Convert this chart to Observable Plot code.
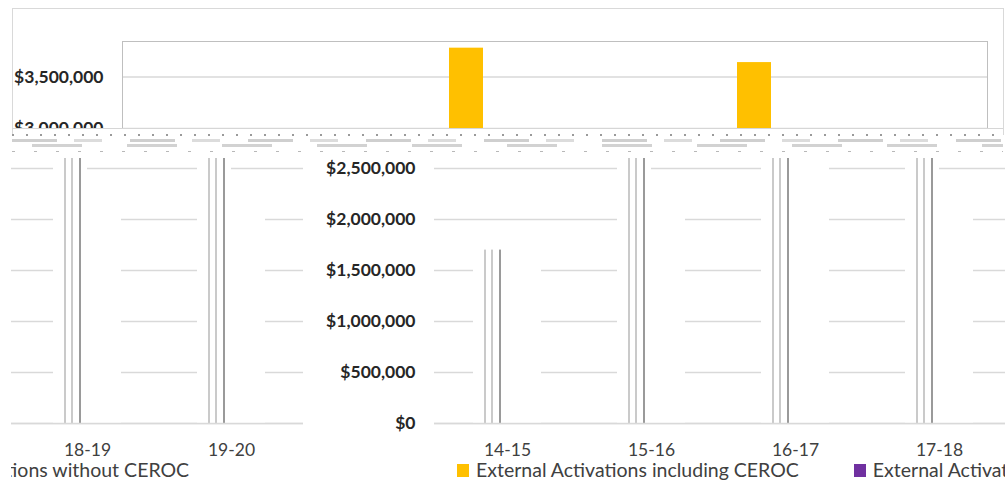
<!DOCTYPE html>
<html><head><meta charset="utf-8">
<script src="https://cdn.jsdelivr.net/npm/d3@7"></script>
<script src="https://cdn.jsdelivr.net/npm/@observablehq/plot@0.6"></script>
<style>
html,body{margin:0;padding:0;background:#fff;width:1005px;height:499px;overflow:hidden;font-family:Lato,"Open Sans",sans-serif;}
#stage{position:relative;width:1005px;height:499px;overflow:hidden;background:#fff;}
.abs{position:absolute;}
#outer{left:12px;top:8px;width:990px;height:126px;border:1px solid #d9d9d9;border-bottom:none;}
#topClip{left:0;top:0;width:1005px;height:129px;overflow:hidden;}
#n1{left:12px;top:128px;width:991px;height:1px;background:#d6d6d6;}
#n2{left:12px;top:134px;width:991px;height:2px;background:repeating-linear-gradient(90deg,#9a9a9a 0 2px,transparent 2px 14px);}
#n3{left:12px;top:139px;width:991px;height:3px;background:repeating-linear-gradient(90deg,#cfcfcf 0 45px,transparent 45px 62px,#dcdcdc 62px 90px,transparent 90px 118px);}
#n4{left:12px;top:144px;width:991px;height:3px;background:repeating-linear-gradient(90deg,transparent 0 20px,#d2d2d2 20px 70px,transparent 70px 95px);}
#n5{left:12px;top:151px;width:991px;height:1px;background:repeating-linear-gradient(90deg,#b8b8b8 0 3px,transparent 3px 22px);}
#bottomA{left:0;top:0;width:1005px;height:499px;overflow:hidden;}
#bottomB{left:11px;top:0;width:994px;height:499px;overflow:hidden;}
.wrap{position:absolute;top:0;width:1300px;height:499px;}
.legend{position:absolute;top:460px;left:457px;white-space:nowrap;font-size:19.5px;line-height:20px;color:#404040;display:flex;align-items:center;}
.legend .item{display:flex;align-items:center;margin-right:55px;}
.sw{display:inline-block;width:12px;height:13px;margin-right:7px;}
svg text{font-family:Lato,"Open Sans",sans-serif;}
g[aria-label^="y-axis"] text{font-size:17.5px;font-weight:700;fill:#262626;}
g[aria-label^="x-axis"] text{font-size:17.5px;fill:#404040;}
</style>
</head><body>
<div id="stage">
  <div id="outer" class="abs"></div>
  <div id="topClip" class="abs"></div>
  <div id="n1" class="abs"></div><div id="n2" class="abs"></div><div id="n3" class="abs"></div><div id="n4" class="abs"></div><div id="n5" class="abs"></div>
  <div id="bottomA" class="abs"></div>
  <div id="bottomB" class="abs"></div>
</div>
<script>
const categories = ["14-15","15-16","16-17","17-18","18-19","19-20"];
const includingCeroc = [1700000, 2750000, 3780000, 2800000, 3640000, 2700000];
const withoutCeroc = [1600000, 2300000, 2700000, 2300000, 2300000, 2200000];
const seriesNames = ["External Activations including CEROC","External Activations without CEROC"];
const seriesColors = ["#FFC000","#7030A0"];
const topTicks = [3000000, 3500000];
const bottomTicks = [0, 500000, 1000000, 1500000, 2000000, 2500000];

const rows = categories.map((c, i) => ({cat: c, inc: includingCeroc[i], exc: withoutCeroc[i]}));
const fmt = d => "$" + d3.format(",")(d);
const st = {background: "transparent", maxWidth: "none", overflow: "visible"};

// upper fragment of the chart
const topChart = Plot.plot({
  width: 1005, height: 128,
  marginLeft: 122, marginRight: 18, marginTop: 41, marginBottom: 0,
  style: st,
  x: {domain: categories, padding: 0, axis: null},
  y: {domain: [3000000, 3844700], ticks: topTicks, tickFormat: fmt, tickSize: 0, tickPadding: 19, label: null},
  marks: [
    Plot.ruleY(topTicks, {stroke: "#d9d9d9", strokeWidth: 1.5}),
    Plot.barY(rows, {x: "cat", y: "inc", fill: seriesColors[0], insetLeft: 38, insetRight: 72, clip: true}),
    Plot.barY(rows, {x: "cat", y: "exc", fill: seriesColors[1], insetLeft: 72, insetRight: 38, clip: true}),
    Plot.frame({stroke: "#bfbfbf"})
  ]
});
document.getElementById("topClip").appendChild(topChart);

// lower, horizontally shifted fragment
function bottomChart() {
  const wrap = document.createElement("div");
  wrap.className = "wrap";
  const svg = Plot.plot({
    width: 1300, height: 499,
    marginLeft: 434, marginRight: 1, marginTop: 158, marginBottom: 76,
    style: st,
    x: {domain: categories, padding: 0, tickSize: 0, tickPadding: 20, label: null},
    y: {domain: [0, 2598000], ticks: bottomTicks, tickFormat: fmt, tickSize: 0, tickPadding: 19, label: null},
    marks: [
      Plot.ruleY(bottomTicks, {stroke: "#d9d9d9", strokeWidth: 1.5}),
      Plot.barY(rows, {x: "cat", y: "inc", fill: "white", insetLeft: 38, insetRight: 72, clip: true}),
      Plot.barY(rows, {x: "cat", y: "exc", fill: "white", insetLeft: 72, insetRight: 38, clip: true}),
      Plot.barY(rows, {x: "cat", y: "inc", fill: "#cacaca", insetLeft: 49, insetRight: 93, clip: true}),
      Plot.barY(rows, {x: "cat", y: "inc", fill: "#cacaca", insetLeft: 56, insetRight: 86, clip: true}),
      Plot.barY(rows, {x: "cat", y: "inc", fill: "#9a9a9a", insetLeft: 64, insetRight: 78, clip: true}),
      Plot.ruleY([0], {stroke: "#d9d9d9", strokeWidth: 1.5})
    ]
  });
  wrap.appendChild(svg);
  const lg = document.createElement("div");
  lg.className = "legend";
  seriesNames.forEach((n, i) => {
    const it = document.createElement("span");
    it.className = "item";
    const sw = document.createElement("span");
    sw.className = "sw";
    sw.style.background = seriesColors[i];
    it.appendChild(sw);
    it.appendChild(document.createTextNode(n));
    lg.appendChild(it);
  });
  wrap.appendChild(lg);
  return wrap;
}
const a = bottomChart();
a.style.left = "0px";
document.getElementById("bottomA").appendChild(a);
const b = bottomChart();
b.style.left = "-1007px";
document.getElementById("bottomB").appendChild(b);
</script>
</body></html>
